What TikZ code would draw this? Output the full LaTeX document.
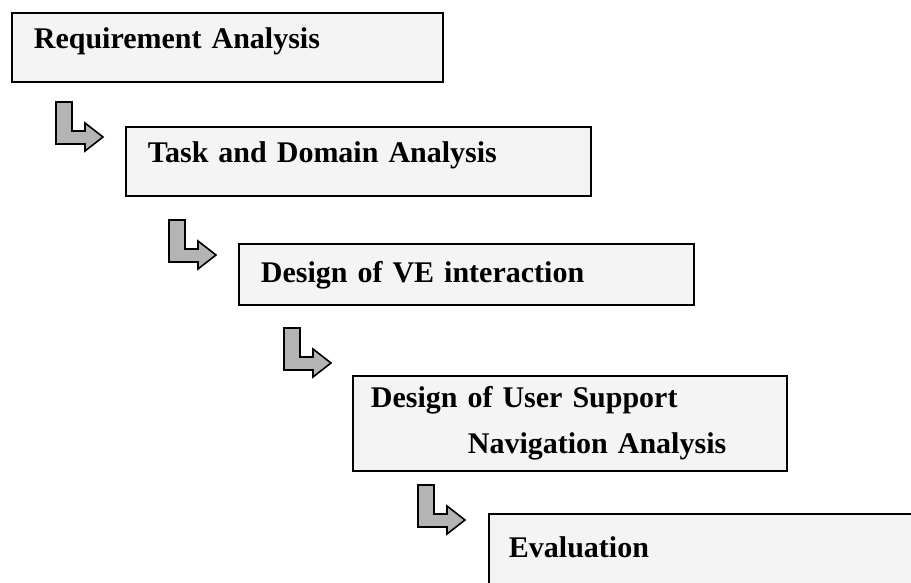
\documentclass[tikz,border=0pt]{standalone}
\usepackage{fontspec}
\setmainfont{Liberation Serif}
\usepackage{xcolor}
\usetikzlibrary{positioning}
\definecolor{shade}{HTML}{F4F4F4}
\definecolor{arrowgray}{HTML}{B4B4B4}
\definecolor{arrowdark}{HTML}{8A8A8A}

\begin{document}
\begin{tikzpicture}[
  x=1pt,y=1pt,
  every node/.style={font=\bfseries\fontsize{30}{46}\selectfont},
  phase/.style={draw=black,line width=1.8pt,fill=shade,anchor=north west,inner xsep=22pt,inner ysep=0pt,align=left},
  arrowfill/.style={draw=black,line width=1.6pt,fill=arrowgray,line join=miter},
  larrow/.pic={\draw[arrowfill,pic actions] (0,0) -- (16,0) -- (16,-29) -- (29,-29) -- (29,-21) -- (47,-35) -- (29,-49) -- (29,-42) -- (0,-42) -- cycle;}
]
\fill[white] (0,0) rectangle (911,582);
\useasboundingbox (0,0) rectangle (911,582);
\node[phase,text width=387pt,text height=36pt,text depth=33pt] (req) at (11,570) {Requirement Analysis};
\node[phase,text width=421pt,text height=36pt,text depth=33pt] (task) at (125,456) {Task and Domain Analysis};
\node[phase,text width=411pt,text height=39pt,text depth=22pt] (vedesign) at (238,339) {Design of VE interaction};
\node[phase,inner xsep=18pt,text width=398pt,text height=32pt,text depth=63pt] (support) at (352,207) {Design of User Support\\\hspace*{97pt}Navigation Analysis};
\node[phase,inner xsep=20pt,text width=410pt,text height=44pt,text depth=46pt] (eval) at (488,69) {Evaluation};
\pic at (56,480) {larrow};
\pic at (169,362) {larrow};
\pic[fill=arrowdark] at (284,254) {larrow};
\pic at (418,97) {larrow};
\end{tikzpicture}
\end{document}
